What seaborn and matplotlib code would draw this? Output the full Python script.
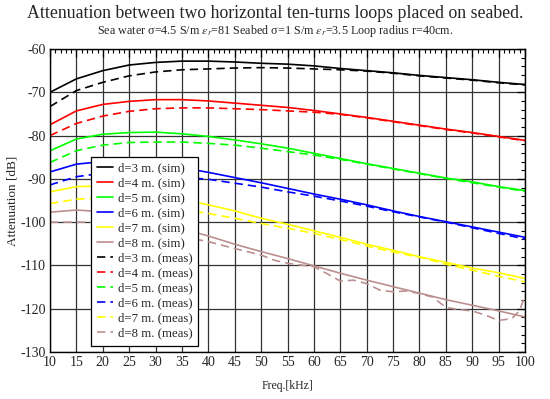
import matplotlib
matplotlib.use("Agg")
import matplotlib.pyplot as plt
import numpy as np
import seaborn as sns
from matplotlib.ticker import MultipleLocator

freq = [10, 15, 20, 25, 30, 35, 40, 45, 50, 55,
        60, 65, 70, 75, 80, 85, 90, 95, 100]

sim_3m = [-70.0, -66.9, -65.0, -63.7, -63.1, -62.8, -62.8, -63.0, -63.3, -63.5,
          -63.9, -64.5, -65.0, -65.5, -66.1, -66.6, -67.1, -67.7, -68.2]
sim_4m = [-77.5, -74.3, -72.8, -72.1, -71.7, -71.7, -72.0, -72.5, -73.0, -73.5,
          -74.2, -75.0, -75.8, -76.7, -77.6, -78.5, -79.3, -80.2, -81.1]
sim_5m = [-83.5, -80.8, -79.7, -79.3, -79.2, -79.6, -80.2, -81.0, -81.9, -82.9,
          -84.1, -85.3, -86.5, -87.6, -88.7, -89.8, -90.7, -91.8, -92.7]
sim_6m = [-88.4, -86.6, -86.0, -86.1, -86.6, -87.4, -88.5, -89.7, -90.9, -92.2,
          -93.5, -94.7, -96.0, -97.4, -98.7, -99.9, -101.1, -102.3, -103.5]
sim_7m = [-93.0, -91.8, -91.6, -92.0, -93.0, -94.7, -96.0, -97.4, -99.1, -100.5,
          -102.0, -103.5, -105.1, -106.5, -108.0, -109.3, -110.6, -111.7, -113.0]
sim_8m = [-97.7, -97.2, -97.6, -98.6, -100.0, -101.5, -103.2, -105.1, -106.8, -108.4,
          -110.1, -111.8, -113.4, -114.9, -116.4, -117.9, -119.2, -120.5, -121.9]

meas_3m = [-73.3, -69.6, -67.7, -66.2, -65.3, -64.8, -64.6, -64.4, -64.3, -64.4,
           -64.6, -64.8, -65.1, -65.6, -66.2, -66.7, -67.2, -67.8, -68.3]
meas_4m = [-80.0, -77.2, -75.5, -74.4, -73.8, -73.6, -73.6, -73.8, -74.0, -74.3,
           -74.6, -75.1, -75.9, -76.8, -77.7, -78.6, -79.4, -80.3, -81.2]
meas_5m = [-86.2, -83.5, -82.2, -81.6, -81.5, -81.5, -81.8, -82.2, -82.9, -83.7,
           -84.5, -85.5, -86.6, -87.7, -88.8, -89.9, -90.9, -91.9, -92.9]
meas_6m = [-91.4, -89.5, -88.7, -88.6, -89.0, -89.6, -90.1, -91.0, -91.9, -93.0,
           -94.0, -95.1, -96.3, -97.6, -98.8, -100.0, -101.3, -102.6, -103.9]
meas_7m = [-95.7, -94.7, -94.4, -94.8, -95.6, -97.0, -98.0, -99.1, -100.3, -101.4,
           -102.6, -104.0, -105.5, -106.9, -108.1, -109.7, -111.1, -112.5, -113.8]

freq_8m_meas = [10, 15, 20, 25, 30, 35, 37, 40, 45, 50, 52.5, 55, 60, 62.5, 65,
                67.5, 70, 72.5, 75, 77.5, 80, 82.5, 85, 87.5, 90, 92.5, 95,
                97.5, 99, 100]
meas_8m = [-100.0, -100.0, -100.0, -100.5, -101.5, -103.2, -103.8, -104.5,
           -106.1, -107.6, -108.8, -109.5, -110.3, -111.9, -113.6, -113.4,
           -114.2, -115.7, -116.1, -115.9, -116.5, -117.3, -119.7, -120.2,
           -120.5, -121.5, -122.7, -122.3, -120.4, -116.9]

distances = [3, 4, 5, 6, 7, 8]
colors = ["#000000", "#ff0000", "#00ff00", "#0000ff", "#ffff00", "#bc8f8f"]
sim_series = [sim_3m, sim_4m, sim_5m, sim_6m, sim_7m, sim_8m]
meas_series = [(freq, meas_3m), (freq, meas_4m), (freq, meas_5m),
               (freq, meas_6m), (freq, meas_7m), (freq_8m_meas, meas_8m)]

sns.set_style("white")
plt.rcParams["font.family"] = ["Liberation Serif", "DejaVu Serif"]
plt.rcParams["mathtext.fontset"] = "stix"
plt.rcParams["axes.unicode_minus"] = False

fig = plt.figure(figsize=(5.5, 3.99), dpi=100)
ax = fig.add_axes([50 / 550, 47 / 399, 475 / 550, 303 / 399])

for d, c, ys in zip(distances, colors, sim_series):
    sns.lineplot(x=freq, y=ys, color=c, linewidth=1.2, ax=ax,
                 label="d={} m. (sim)".format(d))
for d, c, (xs, ys) in zip(distances, colors, meas_series):
    sns.lineplot(x=xs, y=ys, color=c, linewidth=1.2, ax=ax,
                 linestyle=(0, (5, 3)), label="d={} m. (meas)".format(d))

ax.set_xlim(10, 100)
ax.set_ylim(-130, -60)
ax.xaxis.set_major_locator(MultipleLocator(5))
ax.xaxis.set_minor_locator(MultipleLocator(1))
ax.yaxis.set_major_locator(MultipleLocator(10))
ax.yaxis.set_minor_locator(MultipleLocator(2))
ax.grid(True, which="major", color="#333333", linewidth=0.9)
ax.set_axisbelow(True)
ax.tick_params(which="both", direction="in", top=True, right=True,
               labelsize=10, color="black")
ax.tick_params(axis="x", pad=3)
ax.tick_params(axis="y", pad=3)
ax.tick_params(which="major", length=6, width=0.9)
ax.tick_params(which="minor", length=3, width=0.8)
for s in ax.spines.values():
    s.set_color("black")
    s.set_linewidth(1.0)

ax.set_xlabel("Freq.[kHz]", fontsize=8.5, labelpad=8)
ax.set_ylabel("Attenuation [dB]", fontsize=9.5, labelpad=1)

fig.text(0.5, 0.965, "Attenuation between two horizontal ten-turns loops placed on seabed.",
         ha="center", va="center", fontsize=12.8)
fig.text(0.5, 0.922,
         r"Sea water σ=4.5 S/m $\varepsilon_r$=81 Seabed σ=1 S/m $\varepsilon_r$=3.5 Loop radius r=40cm.",
         ha="center", va="center", fontsize=8.7)

leg = ax.legend(loc="upper left", bbox_to_anchor=(0.0863, 0.6436),
                borderaxespad=0, fontsize=9.2, handlelength=1.3,
                handletextpad=0.35, labelspacing=0.235, borderpad=0.45,
                frameon=True, fancybox=False, framealpha=1)
leg.get_frame().set_edgecolor("black")
leg.get_frame().set_linewidth(0.9)

fig.savefig("out.png", dpi=100)
